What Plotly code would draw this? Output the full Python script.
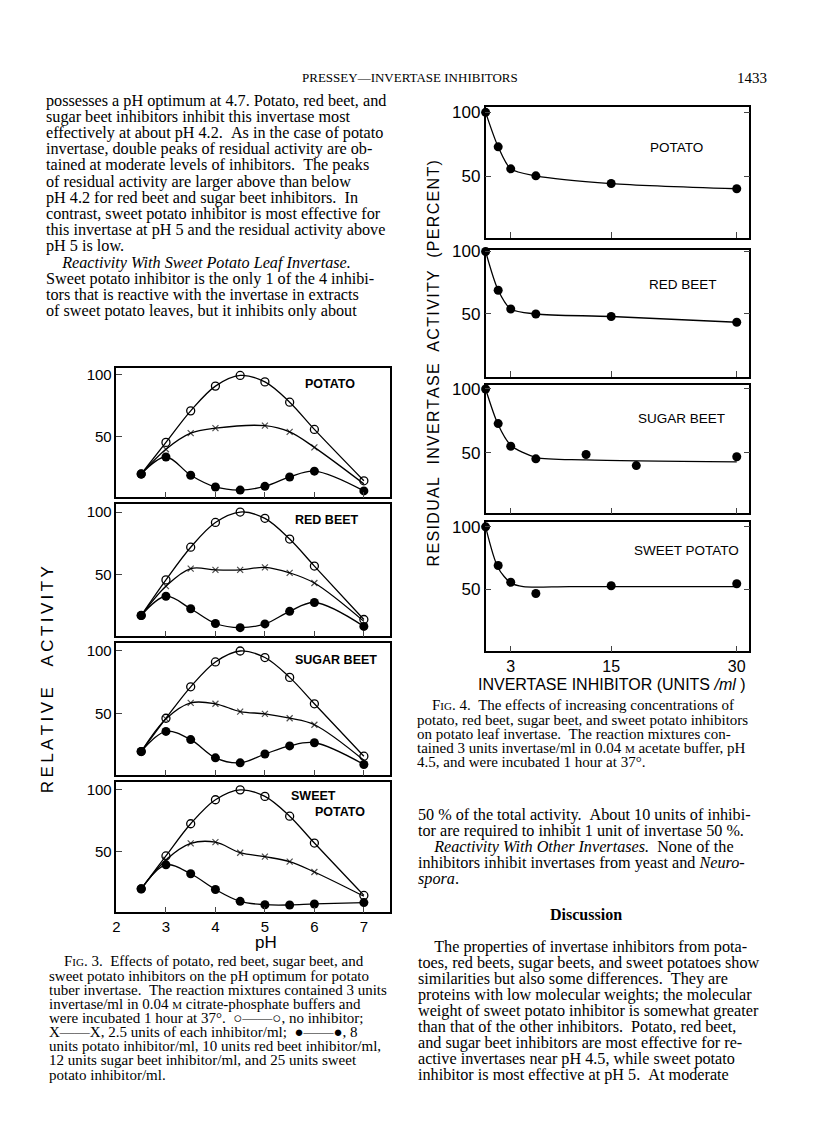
import plotly.graph_objects as go

# page is 816x1143; the html body keeps an 8px margin, so the figure is drawn smaller
PAGE_OFF = 8
W, H = 800, 1120

# ---- Fig. 3 data (relative activity vs pH) ----
ph = [2.5, 3, 3.5, 4, 4.5, 5, 5.5, 6, 7]
fig3_names = ["POTATO", "RED BEET", "SUGAR BEET", "SWEET", "POTATO"]
no_inhib = [
    [20, 45.5, 71, 91, 99.6, 94.4, 78, 56, 14.5],
    [17.7, 46, 72, 91.7, 100, 95, 78.5, 57, 14.5],
    [20, 46.5, 71.5, 91.3, 100, 94.8, 79, 58, 16.3],
    [20, 46.6, 72.6, 92, 100, 94.7, 78.7, 57, 14.7],
]
inhib_25 = [
    [20, 40, 53, 57, None, 59, 54, 41.5, 12],
    [17.7, 41, 55, 54, 54, 56, 51.6, 43.5, 13],
    [20, 46, 58.7, 58, 51.8, 50, 46.5, 41.3, 13],
    [20, 43.4, 56.7, 57.7, 49.2, 46, 42, 33.6, 14],
]
inhib_high = [
    [20, 33.7, 19, 9.5, 7, 10, 17.6, 22.3, 6.3],
    [17.7, 33, 23, 11.3, 8, 11, 21, 28, 9],
    [20, 36, 29.5, 15, 11, 18, 24.5, 27, 9.7],
    [20, 39.4, 32.2, 19.5, 9.9, 7.2, 7, 7.8, 8.9],
]

# ---- Fig. 4 data (residual activity vs inhibitor units/ml) ----
fig4_names = ["POTATO", "RED BEET", "SUGAR BEET", "SWEET POTATO"]
conc_pts = [
    [0, 1.5, 3, 6, 15, 30],
    [0, 1.5, 3, 6, 15, 30],
    [0, 1.5, 3, 6, 12, 18, 30],
    [0, 1.5, 3, 6, 15, 30],
]
resid_pts = [
    [100, 73, 55.8, 50.3, 44.3, 40.2],
    [100, 69, 54, 50, 48, 43.4],
    [100, 72.9, 55.2, 45.3, 48.7, 40, 46.9],
    [100, 69, 55.5, 46.5, 52.7, 54.3],
]
conc_fit = [
    [0, 1.5, 3, 6, 15, 30],
    [0, 1.5, 3, 6, 15, 30],
    [0, 1.5, 3, 6, 12, 30],
    [0, 1.5, 3, 4.5, 10, 30],
]
resid_fit = [
    [100, 73, 55.8, 50.3, 44.3, 40.2],
    [100, 69, 54, 50, 48, 43.4],
    [100, 72, 56, 46.5, 44.5, 43],
    [100, 67, 55, 52, 52, 52],
]


def px(x):
    return (x - PAGE_OFF) / W


def py(y):
    # small empirical correction: the page came out a few px low near the top
    y = y - (7 - 6 * (y - 77) / 999)
    return 1 - (y - PAGE_OFF) / H


fig = go.Figure()
layout = {}
annots = []

SANS = "Liberation Sans"
SERIF = "Liberation Serif"

# Fig 3 panels
f3_rows = [(368, 498), (505, 637), (644, 776), (783, 913)]
for i in range(4):
    n = i + 1
    xa, ya = "x%d" % n, "y%d" % n
    top, bot = f3_rows[i]
    layout["xaxis%d" % n] = dict(
        domain=[px(113), px(388)], range=[2.0, 7.53], anchor=ya,
        tickvals=[2, 3, 4, 5, 6, 7] if i == 3 else [3, 4, 5, 6, 7],
        showticklabels=(i == 3), ticks="inside", ticklen=6,
        tickfont=dict(family=SANS, size=15, color="black"),
        showline=True, mirror=True, linecolor="black", linewidth=1.5,
        showgrid=False, zeroline=False)
    layout["yaxis%d" % n] = dict(
        domain=[py(bot), py(top)], range=[1, 106], anchor=xa,
        tickvals=[50, 100], ticks="inside", ticklen=6,
        tickfont=dict(family=SANS, size=15, color="black"),
        showline=True, mirror=True, linecolor="black", linewidth=1.5,
        showgrid=False, zeroline=False)
    line = dict(color="black", width=1.3, shape="spline", smoothing=1)
    fig.add_trace(go.Scatter(x=ph, y=no_inhib[i], xaxis=xa, yaxis=ya, mode="lines+markers",
                             line=line, cliponaxis=False,
                             marker=dict(symbol="circle-open", size=8, color="black",
                                         line=dict(width=1.3))))
    xs = [0] + [6] * 7 + [0]
    fig.add_trace(go.Scatter(x=ph, y=inhib_25[i], xaxis=xa, yaxis=ya, mode="lines+markers",
                             line=line, connectgaps=True, cliponaxis=False,
                             marker=dict(symbol="x-thin-open", size=xs, color="black",
                                         line=dict(width=1.2, color="black"))))
    fig.add_trace(go.Scatter(x=ph, y=inhib_high[i], xaxis=xa, yaxis=ya, mode="lines+markers",
                             line=line, cliponaxis=False,
                             marker=dict(symbol="circle", size=9, color="black")))

# Fig 4 panels
f4_rows = [(107, 238, 2, 104.5), (250, 377, 0, 101.5), (385, 514, 2.5, 103.5), (523, 652, 0, 103.5)]
for i in range(4):
    n = i + 5
    xa, ya = "x%d" % n, "y%d" % n
    top, bot, lo, hi = f4_rows[i]
    layout["xaxis%d" % n] = dict(
        domain=[px(484), px(749)], range=[0, 31.5], anchor=ya,
        tickvals=[3, 15, 30], showticklabels=(i == 3), ticks="inside", ticklen=6,
        tickfont=dict(family=SANS, size=16, color="black"),
        showline=True, mirror=True, linecolor="black", linewidth=1.5,
        showgrid=False, zeroline=False)
    layout["yaxis%d" % n] = dict(
        domain=[py(bot), py(top)], range=[lo, hi], anchor=xa,
        tickvals=[50, 100], ticks="inside", ticklen=6, mirror="ticks",
        tickfont=dict(family=SANS, size=17, color="black"),
        showline=True, linecolor="black", linewidth=1.5,
        showgrid=False, zeroline=False)
    fig.add_trace(go.Scatter(x=conc_fit[i], y=resid_fit[i], xaxis=xa, yaxis=ya, mode="lines",
                             line=dict(color="black", width=1.3, shape="spline", smoothing=0.8),
                             cliponaxis=False))
    fig.add_trace(go.Scatter(x=conc_pts[i], y=resid_pts[i], xaxis=xa, yaxis=ya, mode="markers",
                             cliponaxis=False,
                             marker=dict(symbol="circle", size=9, color="black")))


def txt(x, y, s, size=14, family=SERIF, xanchor="left", angle=0, color="black"):
    annots.append(dict(x=px(x), y=py(y), xref="paper", yref="paper", text=s,
                       showarrow=False, xanchor=xanchor, yanchor="middle",
                       textangle=angle, font=dict(family=family, size=size, color=color)))


# panel labels
for (x, y, a), s in zip([(328, 384, "center"), (325, 521, "center"), (334, 661, "center"),
                         (286, 797, "left"), (311, 813, "left")], fig3_names):
    txt(x, y, "<b>%s</b>" % s, 12.5, SANS, a)
for (x, y), s in zip([(676, 148), (682, 285), (681, 419), (686, 551)], fig4_names):
    txt(x, y, s, 13.5, SANS, "center")

# axis titles
txt(263, 943, "pH", 17, SANS, "center")
txt(44, 680, "R\u2009E\u2009L\u2009A\u2009T\u2009I\u2009V\u2009E\u2003 A\u2009C\u2009T\u2009I\u2009V\u2009I\u2009T\u2009Y",
    17, SANS, "center", -90)
txt(611, 685, "INVERTASE INHIBITOR (UNITS <i>/ml</i> )", 16, SANS, "center")
txt(432, 364, "R\u200aE\u200aS\u200aI\u200aD\u200aU\u200aA\u200aL\u2002 I\u200aN\u200aV\u200aE\u200aR\u200aT\u200aA\u200aS\u200aE\u2002 "
    "A\u200aC\u200aT\u200aI\u200aV\u200aI\u200aT\u200aY\u2002 (\u200aP\u200aE\u200aR\u200aC\u200aE\u200aN\u200aT\u200a)",
    16, SANS, "center", -90)

# running head
txt(408, 78, "PRESSEY\u2014INVERTASE INHIBITORS", 13, SERIF, "center")
txt(752, 78, "1433", 15, SERIF, "center")

BODY = 16.2
CAP = 15

left_col = [
    "possesses a pH optimum at 4.7. Potato, red beet, and",
    "sugar beet inhibitors inhibit this invertase most",
    "effectively at about pH 4.2.  As in the case of potato",
    "invertase, double peaks of residual activity are ob-",
    "tained at moderate levels of inhibitors.  The peaks",
    "of residual activity are larger above than below",
    "pH 4.2 for red beet and sugar beet inhibitors.  In",
    "contrast, sweet potato inhibitor is most effective for",
    "this invertase at pH 5 and the residual activity above",
    "pH 5 is low.",
    "    <i>Reactivity With Sweet Potato Leaf Invertase.</i>",
    "Sweet potato inhibitor is the only 1 of the 4 inhibi-",
    "tors that is reactive with the invertase in extracts",
    "of sweet potato leaves, but it inhibits only about",
]
for k, s in enumerate(left_col):
    txt(40, 101 + 16.2 * k, s.replace("  ", "\u2002"), BODY)

sc = "<span style='font-size:11px'>%s</span>"
cap3 = [
    "    F" + sc % "IG" + ". 3.  Effects of potato, red beet, sugar beet, and",
    "sweet potato inhibitors on the pH optimum for potato",
    "tuber invertase.  The reaction mixtures contained 3 units",
    "invertase/ml in 0.04 " + sc % "M" + " citrate-phosphate buffers and",
    "were incubated 1 hour at 37\u00b0.  \u25cb\u2014\u2014\u25cb, no inhibitor;",
    "X\u2014\u2014X, 2.5 units of each inhibitor/ml;  \u25cf\u2014\u2014\u25cf, 8",
    "units potato inhibitor/ml, 10 units red beet inhibitor/ml,",
    "12 units sugar beet inhibitor/ml, and 25 units sweet",
    "potato inhibitor/ml.",
]
for k, s in enumerate(cap3):
    txt(43, 962 + 14.15 * k, s.replace("  ", "\u2002"), CAP)

cap4 = [
    "    F" + sc % "IG" + ". 4.  The effects of increasing concentrations of",
    "potato, red beet, sugar beet, and sweet potato inhibitors",
    "on potato leaf invertase.  The reaction mixtures con-",
    "tained 3 units invertase/ml in 0.04 " + sc % "M" + " acetate buffer, pH",
    "4.5, and were incubated 1 hour at 37\u00b0.",
]
for k, s in enumerate(cap4):
    txt(413, 706 + 14.1 * k, s.replace("  ", "\u2002"), CAP)

right_col = [
    "50 % of the total activity.  About 10 units of inhibi-",
    "tor are required to inhibit 1 unit of invertase 50 %.",
    "    <i>Reactivity With Other Invertases.</i>  None of the",
    "inhibitors inhibit invertases from yeast and <i>Neuro-</i>",
    "<i>spora</i>.",
]
for k, s in enumerate(right_col):
    txt(414, 816 + 16 * k, s.replace("  ", "\u2002"), BODY)

txt(585, 915, "<b>Discussion</b>", 16, SERIF, "center")

disc = [
    "    The properties of invertase inhibitors from pota-",
    "toes, red beets, sugar beets, and sweet potatoes show",
    "similarities but also some differences.  They are",
    "proteins with low molecular weights; the molecular",
    "weight of sweet potato inhibitor is somewhat greater",
    "than that of the other inhibitors.  Potato, red beet,",
    "and sugar beet inhibitors are most effective for re-",
    "active invertases near pH 4.5, while sweet potato",
    "inhibitor is most effective at pH 5.  At moderate",
]
for k, s in enumerate(disc):
    txt(414, 948 + 15.9 * k, s.replace("  ", "\u2002"), BODY)

fig.update_layout(
    width=W, height=H, margin=dict(l=0, r=0, t=0, b=0),
    paper_bgcolor="white", plot_bgcolor="white", showlegend=False,
    annotations=annots, **layout)

fig.write_html("out.html")
